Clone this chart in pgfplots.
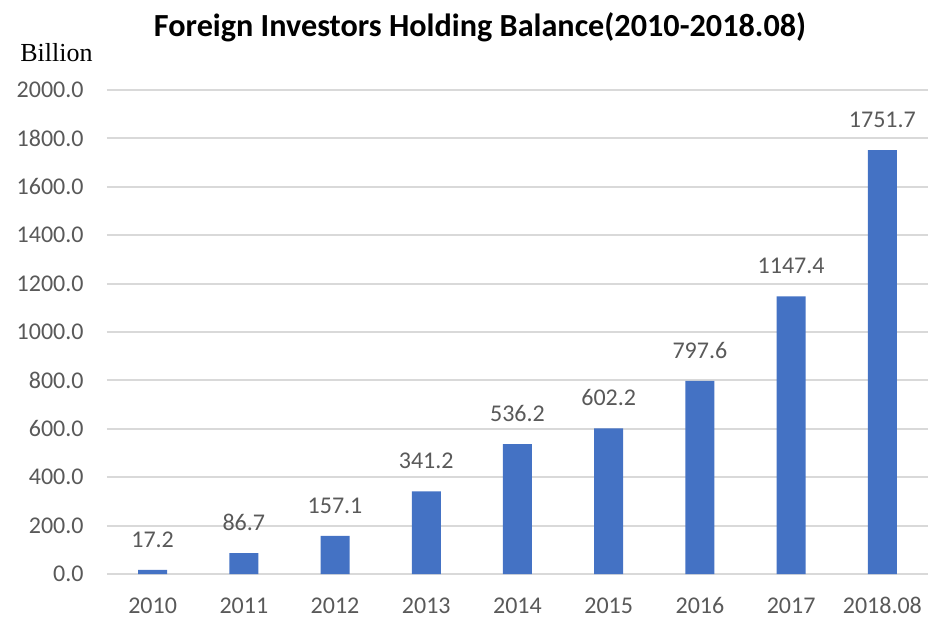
\documentclass[border=0pt]{standalone}
\usepackage{pgfplots}
\pgfplotsset{compat=1.18}
\usepackage{fontspec}
\setmainfont{Carlito}
\newfontfamily\timesfont{Liberation Serif}
\definecolor{barblue}{HTML}{4472C4}
\definecolor{txtgray}{HTML}{595959}
\definecolor{gridgray}{HTML}{D9D9D9}
\begin{document}
\begin{tikzpicture}
\useasboundingbox (0,0) rectangle (464pt,308.5pt);
\begin{axis}[
  at={(53.5pt,21.5pt)}, anchor=south west,
  scale only axis, width=410.5pt, height=242pt,
  xmin=-0.5, xmax=8.5, ymin=0, ymax=2000,
  axis line style={draw=none},
  major tick length=0pt,
  ytick={0,200,...,2000},
  ymajorgrids, grid style={gridgray, line width=1pt},
  xtick={0,...,8},
  xticklabels={2010,2011,2012,2013,2014,2015,2016,2017,2018.08},
  yticklabel style={anchor=east, inner sep=0pt, xshift=-11.5pt, font=\fontsize{12}{14}\selectfont, text=txtgray,
    /pgf/number format/.cd, fixed, fixed zerofill, precision=1, 1000 sep={}, assume math mode=true},
  xticklabel style={anchor=base, inner sep=0pt, yshift=-19.5pt, font=\fontsize{12}{14}\selectfont, text=txtgray},
  scaled y ticks=false,
  nodes near coords,
  nodes near coords style={anchor=base, inner sep=0pt, yshift=11.25pt, font=\fontsize{12}{14}\selectfont, text=txtgray,
    /pgf/number format/.cd, fixed, fixed zerofill, precision=1, 1000 sep={}, assume math mode=true},
  clip=false,
]
\addplot[ybar, bar width=14.5pt, fill=barblue, draw=none] coordinates {
(0,17.2) (1,86.7) (2,157.1) (3,341.2) (4,536.2) (5,602.2) (6,797.6) (7,1147.4) (8,1751.7)};
\end{axis}
\node[anchor=base, inner sep=0pt, font=\bfseries\fontsize{16.1}{18}\selectfont] at (240pt,290pt) {Foreign Investors Holding Balance(2010-2018.08)};
\node[anchor=base west, inner sep=0pt, font=\timesfont\fontsize{13}{15}\selectfont] at (10pt,277.7pt) {Billion};
\end{tikzpicture}
\end{document}
